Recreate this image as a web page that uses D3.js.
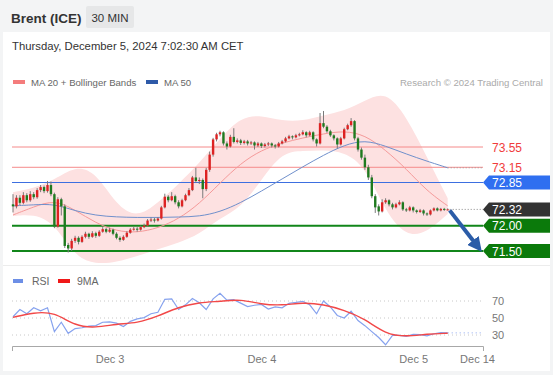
<!DOCTYPE html>
<html>
<head>
<meta charset="utf-8">
<script src="https://cdn.jsdelivr.net/npm/d3@7"></script>
<style>
  html, body { margin: 0; padding: 0; background: #f3f4f5; }
  svg { display: block; font-family: "Liberation Sans", Arial, sans-serif; }
</style>
</head>
<body>
<div id="chart"></div>
<script>
// 30 min candles, [open, high, low, close]
const candles = [
  [72.42,72.62,72.26,72.38],[72.38,72.60,72.34,72.55],[72.55,72.60,72.40,72.45],[72.45,72.66,72.42,72.60],
  [72.60,72.64,72.46,72.50],[72.50,72.68,72.47,72.62],[72.62,72.66,72.52,72.56],[72.56,72.74,72.53,72.70],
  [72.70,72.80,72.66,72.76],[72.76,72.79,72.64,72.68],[72.68,72.88,72.65,72.80],[72.80,72.87,72.58,72.62],
  [72.62,72.65,71.95,71.98],[71.98,72.56,71.96,72.52],[72.52,72.55,72.20,72.38],[72.38,72.42,71.56,71.60],
  [71.62,71.66,71.47,71.55],[71.55,71.74,71.50,71.70],[71.70,71.80,71.66,71.76],[71.76,71.79,71.63,71.68],
  [71.68,71.81,71.66,71.78],[71.78,71.88,71.75,71.84],[71.84,71.86,71.74,71.78],[71.78,71.89,71.76,71.85],
  [71.85,71.88,71.76,71.80],[71.80,71.91,71.78,71.88],[71.88,71.97,71.86,71.93],[71.93,71.96,71.85,71.88],
  [71.88,71.96,71.86,71.92],[71.92,71.94,71.81,71.84],[71.84,71.87,71.73,71.76],[71.76,71.79,71.68,71.72],
  [71.72,71.81,71.70,71.78],[71.78,71.89,71.76,71.86],[71.86,71.95,71.84,71.92],[71.92,71.98,71.90,71.94],
  [71.94,71.97,71.88,71.92],[71.92,72.00,71.90,71.97],[71.97,72.04,71.95,72.00],[72.00,72.13,71.98,72.10],
  [72.10,72.16,72.07,72.12],[72.12,72.15,72.06,72.10],[72.10,72.17,72.08,72.14],[72.14,72.39,72.12,72.36],
  [72.36,72.63,72.34,72.57],[72.57,72.60,72.46,72.50],[72.50,72.66,72.48,72.58],[72.58,72.61,72.42,72.46],
  [72.46,72.50,72.34,72.38],[72.38,72.53,72.36,72.50],[72.50,72.63,72.48,72.60],[72.60,72.74,72.58,72.70],
  [72.70,72.98,72.68,72.95],[72.95,73.14,72.84,72.88],[72.88,72.95,72.82,72.90],[72.90,72.93,72.54,72.72],
  [72.72,73.14,72.68,73.10],[73.10,73.46,73.06,73.40],[73.40,73.73,73.36,73.70],[73.70,73.83,73.66,73.80],
  [73.80,73.87,73.76,73.84],[73.84,73.86,73.58,73.62],[73.62,73.66,73.50,73.56],[73.56,73.79,73.54,73.75],
  [73.75,73.92,73.62,73.65],[73.65,73.72,73.62,73.68],[73.68,73.71,73.59,73.63],[73.63,73.69,73.60,73.66],
  [73.66,73.69,73.58,73.62],[73.62,73.67,73.59,73.64],[73.64,73.66,73.50,73.58],[73.58,73.65,73.55,73.62],
  [73.62,73.64,73.53,73.57],[73.57,73.63,73.54,73.60],[73.60,73.65,73.57,73.62],[73.62,73.64,73.54,73.58],
  [73.58,73.61,73.52,73.56],[73.56,73.65,73.54,73.62],[73.62,73.69,73.60,73.66],[73.66,73.75,73.64,73.72],
  [73.72,73.79,73.70,73.76],[73.76,73.78,73.70,73.74],[73.74,73.81,73.72,73.78],[73.78,73.83,73.76,73.80],
  [73.80,73.88,73.78,73.84],[73.84,73.86,73.74,73.78],[73.78,73.87,73.76,73.84],[73.84,73.86,73.66,73.70],
  [73.70,73.72,73.56,73.62],[73.62,74.22,73.60,74.02],[74.02,74.26,73.92,73.95],[73.95,73.98,73.83,73.86],
  [73.86,73.89,73.75,73.78],[73.78,73.80,73.68,73.72],[73.72,73.74,73.52,73.60],[73.60,73.75,73.58,73.72],
  [73.72,73.93,73.70,73.90],[73.90,74.01,73.88,73.98],[73.98,74.12,73.95,74.06],[74.06,74.08,73.68,73.72],
  [73.72,73.75,73.46,73.50],[73.50,73.54,73.30,73.34],[73.34,73.40,73.10,73.15],[73.15,73.20,72.90,72.95],
  [72.95,73.00,72.54,72.58],[72.58,72.62,72.25,72.36],[72.38,72.42,72.20,72.28],[72.28,72.52,72.26,72.46],
  [72.46,72.54,72.43,72.50],[72.50,72.52,72.38,72.42],[72.42,72.45,72.32,72.36],[72.36,72.45,72.34,72.42],
  [72.42,72.50,72.40,72.46],[72.46,72.48,72.29,72.32],[72.32,72.35,72.27,72.30],[72.30,72.39,72.28,72.36],
  [72.36,72.38,72.26,72.30],[72.30,72.32,72.24,72.27],[72.27,72.33,72.25,72.30],[72.30,72.32,72.20,72.24],
  [72.24,72.26,72.19,72.22],[72.22,72.32,72.20,72.30],[72.30,72.36,72.28,72.34],[72.34,72.36,72.28,72.30],
  [72.30,72.35,72.28,72.33],[72.33,72.35,72.29,72.31],[72.31,72.34,72.30,72.32]
];

// indicators sampled every 6 candles (index 0, 6, ... 126)
const maIdx = [0,6,12,18,24,30,36,42,48,54,60,66,72,78,84,90,96,102,108,114,120,126];
const ma20 = [72.21,72.37,72.51,72.31,72.05,71.89,71.86,71.95,72.13,72.43,72.84,73.23,73.49,73.63,73.73,73.81,73.87,73.79,73.49,73.12,72.68,72.39];
const bbUpper = [72.66,72.74,72.90,73.18,73.06,72.40,72.15,72.45,72.82,73.23,73.72,74.14,74.18,74.06,74.06,74.18,74.26,74.46,74.66,74.16,73.35,72.54];
const bbLower = [72.19,72.23,72.05,71.38,71.24,71.28,71.40,71.54,71.66,71.83,72.15,72.35,72.90,73.45,73.47,73.49,73.45,73.18,72.27,71.78,71.86,72.23];
const ma50 = [72.39,72.41,72.43,72.29,72.20,72.17,72.16,72.16,72.17,72.18,72.27,72.45,72.68,72.92,73.16,73.39,73.59,73.69,73.57,73.41,73.27,73.14];
const rsiMa = [50.8,56.5,57,40.5,38.5,43,44,52,63,68.3,69.5,72.2,66,64.8,68.2,66,59.2,49,31,28,31.2,32];

// RSI sampled every 2 candles (index 0, 2, ... 126)
const rsi = [51.5,60,55,62,58.5,62,34,45,32,37.5,38.5,40.5,41,45,45.5,44,40,46,49,50.5,55,56.7,72,72.4,
  60,65.5,73,68,60,72.5,79,71,71.5,67.5,63.5,65,66,60.6,63,62,67.3,68.3,69.5,65.5,55,70,63,53,50,58,
  47,41,34,27,18.5,29.5,29.5,28.5,30.8,30.5,29,31.5,32.8,32.5];

const dayLabels = ["Dec 3", "Dec 4", "Dec 5", "Dec 14"];
const dayIdx = [28, 72, 116, 134.5];

const resistances = [73.55, 73.15];
const pivot = 72.85;
const supports = [72.00, 71.50];
const lastPrice = 72.32;
const rsiLevels = [70, 50, 30];

const W = 553, H = 375;
const left = 12, right = 483;

const svg = d3.select("#chart").append("svg")
  .attr("width", W).attr("height", H);

// backgrounds
svg.append("rect").attr("width", W).attr("height", H).attr("fill", "#f3f4f5");
svg.append("rect").attr("x", 3).attr("y", 32).attr("width", 547).attr("height", 339).attr("fill", "#fff");
svg.append("line").attr("x1", 3).attr("x2", 550).attr("y1", 265.5).attr("y2", 265.5)
  .attr("stroke", "#ececec");

// header
svg.append("text").attr("x", 11).attr("y", 23).text("Brent (ICE)")
  .attr("font-size", 13.5).attr("font-weight", "bold").attr("fill", "#333");
svg.append("rect").attr("x", 86).attr("y", 6).attr("width", 48).attr("height", 22).attr("rx", 2)
  .attr("fill", "#e6e7e8");
svg.append("text").attr("x", 110).attr("y", 22).attr("text-anchor", "middle").text("30 MIN")
  .attr("font-size", 11.5).attr("fill", "#333");
svg.append("text").attr("x", 12).attr("y", 50).text("Thursday, December 5, 2024 7:02:30 AM CET")
  .attr("font-size", 11.3).attr("fill", "#333");

// legend
const leg = svg.append("g").attr("font-size", 9.6).attr("fill", "#666");
leg.append("rect").attr("x", 13).attr("y", 80).attr("width", 12).attr("height", 4).attr("fill", "#f47c7c");
leg.append("text").attr("x", 31).attr("y", 85.5).text("MA 20 + Bollinger Bands");
leg.append("rect").attr("x", 146).attr("y", 80).attr("width", 12).attr("height", 4).attr("fill", "#2e5aa8");
leg.append("text").attr("x", 164).attr("y", 85.5).text("MA 50");
leg.append("text").attr("x", 543).attr("y", 85.5).attr("text-anchor", "end").attr("fill", "#aaa")
  .text("Research \u00a9 2024 Trading Central");

// scales
const x = d3.scaleLinear().domain([0, candles.length - 1]).range([13, 447.7]);
const y = d3.scaleLinear().domain([71.5, 73.55]).range([251, 147]);
const yR = d3.scaleLinear().domain([30, 70]).range([335, 301]);

// bollinger band
const band = d3.area().curve(d3.curveBasis)
  .x((d, i) => x(maIdx[i])).y0((d, i) => y(bbLower[i])).y1(d => y(d));
svg.append("path").datum(bbUpper).attr("d", band).attr("fill", "#fde1e1");

// levels
const lvl = svg.append("g");
resistances.forEach(v => {
  lvl.append("line").attr("x1", left).attr("x2", right).attr("y1", y(v)).attr("y2", y(v))
    .attr("stroke", "#f58a8a").attr("stroke-width", 1);
});
lvl.append("line").attr("x1", left).attr("x2", right).attr("y1", y(pivot)).attr("y2", y(pivot))
  .attr("stroke", "#3d6fe0").attr("stroke-width", 1.2);
supports.forEach(v => {
  lvl.append("line").attr("x1", left).attr("x2", right).attr("y1", y(v)).attr("y2", y(v))
    .attr("stroke", "#11861a").attr("stroke-width", 2);
});

// moving averages
const maLine = arr => d3.line().curve(d3.curveBasis).x((d, i) => x(maIdx[i])).y(d => y(d))(arr);
svg.append("path").attr("d", maLine(ma20)).attr("fill", "none").attr("stroke", "#f59a9a").attr("stroke-width", 1);
svg.append("path").attr("d", maLine(ma50)).attr("fill", "none").attr("stroke", "#7090cc").attr("stroke-width", 1);
svg.append("line").attr("x1", x(126)).attr("x2", right).attr("y1", y(ma50[ma50.length - 1])).attr("y2", y(ma50[ma50.length - 1]))
  .attr("stroke", "#999").attr("stroke-dasharray", "1,2");

// candles
const cg = svg.append("g").selectAll("g").data(candles).enter().append("g");
cg.append("line")
  .attr("x1", (d, i) => x(i)).attr("x2", (d, i) => x(i))
  .attr("y1", d => y(d[1])).attr("y2", d => y(d[2]))
  .attr("stroke", "#7a7a7a").attr("stroke-width", 1);
cg.append("rect")
  .attr("x", (d, i) => x(i) - 1.2).attr("width", 2.4)
  .attr("y", d => y(Math.max(d[0], d[3])))
  .attr("height", d => Math.max(1, Math.abs(y(d[0]) - y(d[3]))))
  .attr("fill", d => d[3] >= d[0] ? "#dd2222" : "#1f7a1f");

// last price dotted
svg.append("line").attr("x1", x(126) + 2).attr("x2", right).attr("y1", y(lastPrice)).attr("y2", y(lastPrice))
  .attr("stroke", "#888").attr("stroke-dasharray", "1,2");

// arrow
const defs = svg.append("defs");
defs.append("marker").attr("id", "ah").attr("viewBox", "0 0 10 10").attr("refX", 4).attr("refY", 5)
  .attr("markerWidth", 3.6).attr("markerHeight", 3.6).attr("orient", "auto")
  .append("path").attr("d", "M0,0 L10,5 L0,10 Z").attr("fill", "#2b5ca8");
svg.append("line").attr("x1", x(126) + 2).attr("y1", y(lastPrice) + 1)
  .attr("x2", 476.5).attr("y2", 245)
  .attr("stroke", "#2b5ca8").attr("stroke-width", 4).attr("marker-end", "url(#ah)");

// price labels
resistances.forEach(v => {
  svg.append("text").attr("x", 492).attr("y", y(v) + 4.5).text(v.toFixed(2))
    .attr("font-size", 12).attr("fill", "#f03c3c");
});
function tag(v, fill) {
  const yy = y(v), h = 14, x0 = 483, x1 = 550;
  svg.append("path")
    .attr("d", `M${x0},${yy} L${x0 + 6},${yy - h / 2} L${x1},${yy - h / 2} L${x1},${yy + h / 2} L${x0 + 6},${yy + h / 2} Z`)
    .attr("fill", fill);
  svg.append("text").attr("x", 492).attr("y", yy + 4.5).text(v.toFixed(2))
    .attr("font-size", 12).attr("fill", "#fff");
}
tag(pivot, "#2f6ff0");
tag(lastPrice, "#333");
supports.forEach(v => tag(v, "#0b7a0b"));

// RSI panel
const rl = svg.append("g").attr("font-size", 10.5).attr("fill", "#666");
rl.append("rect").attr("x", 13).attr("y", 279).attr("width", 10).attr("height", 4).attr("fill", "#6d8fe6");
rl.append("text").attr("x", 32).attr("y", 284.5).text("RSI");
rl.append("rect").attr("x", 58).attr("y", 279).attr("width", 12).attr("height", 4).attr("fill", "#f01818");
rl.append("text").attr("x", 77).attr("y", 284.5).text("9MA");

rsiLevels.forEach(v => {
  svg.append("line").attr("x1", left).attr("x2", right).attr("y1", yR(v)).attr("y2", yR(v))
    .attr("stroke", "#c8c8c8").attr("stroke-dasharray", "1,3");
  svg.append("text").attr("x", 492).attr("y", yR(v) + 4).text(v)
    .attr("font-size", 11).attr("fill", "#777");
});

svg.append("path")
  .attr("d", d3.line().x((d, i) => x(i * 2)).y(d => yR(d))(rsi))
  .attr("fill", "none").attr("stroke", "#86a2ee").attr("stroke-width", 1.2);
svg.append("line").attr("x1", x(126)).attr("x2", right).attr("y1", yR(rsi[rsi.length - 1])).attr("y2", yR(rsi[rsi.length - 1]))
  .attr("stroke", "#86a2ee").attr("stroke-dasharray", "1,3");
svg.append("path")
  .attr("d", d3.line().curve(d3.curveBasis).x((d, i) => x(maIdx[i])).y(d => yR(d))(rsiMa))
  .attr("fill", "none").attr("stroke", "#f24848").attr("stroke-width", 1.4);

// time axis
const xa = d3.scaleLinear().domain([x.invert(left), x.invert(right)]).range([left, right]);
const axis = svg.append("g").attr("transform", "translate(0,346)")
  .call(d3.axisBottom(xa).tickValues(dayIdx).tickFormat((d, i) => dayLabels[i])
    .tickSizeInner(0).tickSizeOuter(5).tickPadding(9));
axis.select(".domain").attr("stroke", "#a8a8a8");
axis.selectAll("text").attr("fill", "#777").attr("font-size", 11)
  .attr("font-family", "Liberation Sans, Arial, sans-serif");
</script>
</body>
</html>
